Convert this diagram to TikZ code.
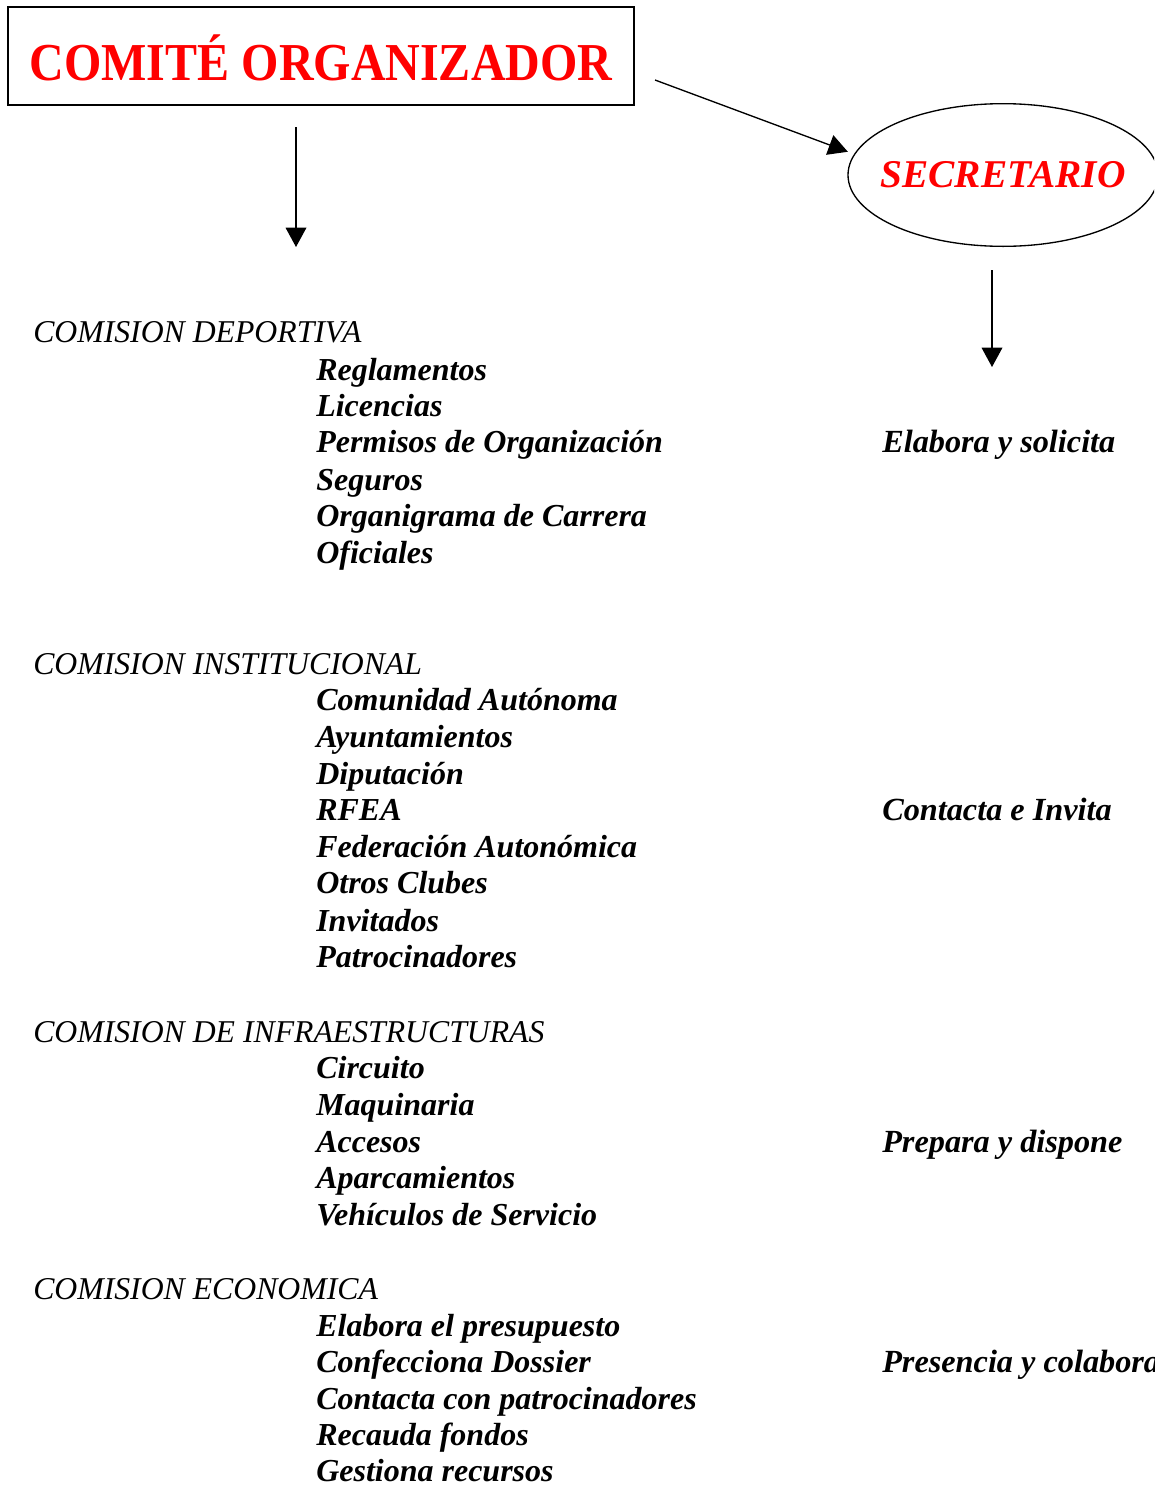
\documentclass[tikz,border=0pt]{standalone}
\usepackage{fontspec}
\setmainfont{Liberation Serif}
\newfontfamily\titlefont[FakeStretch=0.9]{Liberation Serif}
\usetikzlibrary{arrows.meta,shapes.geometric}
\tikzset{
  x=0.75pt, y=-0.75pt,
  conn/.style={line width=1pt, -{Triangle[length=14.5pt,width=15.5pt]}},
  head/.style={anchor=base west, inner sep=0pt, font=\fontsize{23.8pt}{28pt}\selectfont\itshape},
  item/.style={anchor=base west, inner sep=0pt, font=\fontsize{24pt}{28pt}\selectfont\bfseries\itshape},
  act/.style={anchor=base west, inner sep=0pt, font=\fontsize{24.2pt}{28pt}\selectfont\bfseries\itshape},
}
\begin{document}
\begin{tikzpicture}
\useasboundingbox (0,0) rectangle (1154,1485);
\clip (0,0) rectangle (1154,1485);
\fill[white] (0,0) rectangle (1154,1485);

\node[draw, line width=1.2pt, inner sep=0pt,
      minimum width=469.5pt, minimum height=73.5pt, text height=37pt, text depth=0pt,
      text=red, font=\titlefont\fontsize{40pt}{44pt}\selectfont\bfseries] (comite) at (321,56) {COMITÉ ORGANIZADOR};

\node[draw, ellipse, line width=1pt, inner sep=0pt, minimum width=232.5pt, minimum height=107pt,
      text=red, font=\fontsize{29.5pt}{34pt}\selectfont\bfseries\itshape] (sec) at (1003,175) {\makebox[0pt]{SECRETARIO}};

\coordinate (c1) at (296,127);
\coordinate (c1e) at (296,247);
\coordinate (c2) at (655,80);
\coordinate (s1) at (992,270);
\coordinate (s1e) at (992,367);
\draw[conn] (c1) -- (c1e);
\draw[conn, shorten >=5pt] (c2) -- (sec.172);
\draw[conn] (s1) -- (s1e);

\node[head] (h1) at (33,342) {COMISION DEPORTIVA};
\node[item] (i11) at (316,380) {Reglamentos};
\node[item] (i12) at (316,416) {Licencias};
\node[item] (i13) at (316,452) {Permisos de Organización};
\node[item] (i14) at (316,490) {Seguros};
\node[item] (i15) at (316,526) {Organigrama de Carrera};
\node[item] (i16) at (316,563) {Oficiales};
\node[act] (a1) at (882,452) {Elabora y solicita};

\node[head] (h2) at (33,674) {COMISION INSTITUCIONAL};
\node[item] (i21) at (316,710) {Comunidad Autónoma};
\node[item] (i22) at (316,747) {Ayuntamientos};
\node[item] (i23) at (316,784) {Diputación};
\node[item] (i24) at (316,820) {RFEA};
\node[item] (i25) at (316,857) {Federación Autonómica};
\node[item] (i26) at (316,893) {Otros Clubes};
\node[item] (i27) at (316,931) {Invitados};
\node[item] (i28) at (316,967) {Patrocinadores};
\node[act] (a2) at (882,820) {Contacta e Invita};

\node[head] (h3) at (33,1042) {COMISION DE INFRAESTRUCTURAS};
\node[item] (i31) at (316,1078) {Circuito};
\node[item] (i32) at (316,1115) {Maquinaria};
\node[item] (i33) at (316,1152) {Accesos};
\node[item] (i34) at (316,1188) {Aparcamientos};
\node[item] (i35) at (316,1225) {Vehículos de Servicio};
\node[act] (a3) at (882,1152) {Prepara y dispone};

\node[head] (h4) at (33,1299) {COMISION ECONOMICA};
\node[item] (i41) at (316,1336) {Elabora el presupuesto};
\node[item] (i42) at (316,1372) {Confecciona Dossier};
\node[item] (i43) at (316,1409) {Contacta con patrocinadores};
\node[item] (i44) at (316,1445) {Recauda fondos};
\node[item] (i45) at (316,1481) {Gestiona recursos};
\node[act] (a4) at (882,1372) {Presencia y colabora};
\end{tikzpicture}
\end{document}
